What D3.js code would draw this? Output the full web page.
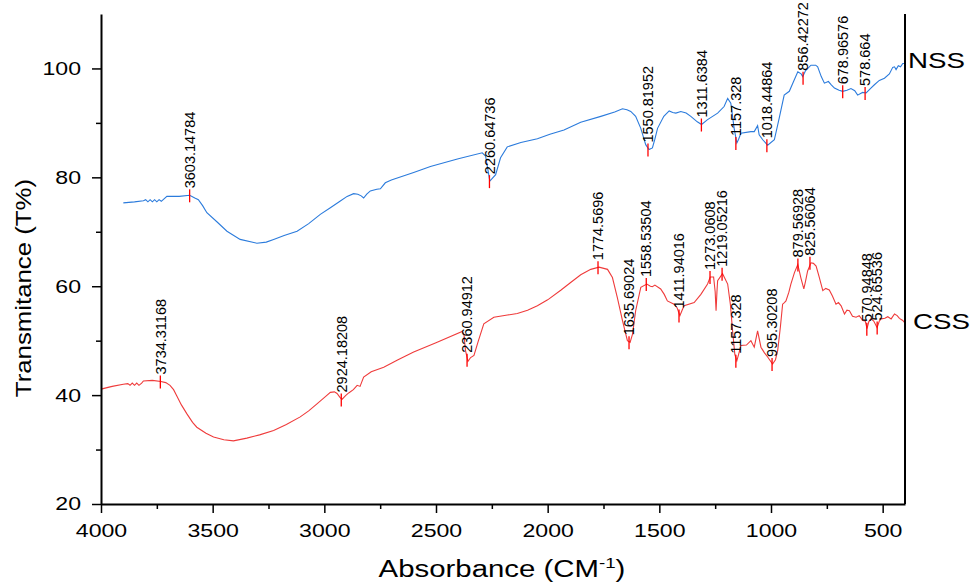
<!DOCTYPE html>
<html>
<head>
<meta charset="utf-8">
<script src="https://cdn.jsdelivr.net/npm/d3@7"></script>
<style>
body{margin:0;background:#fff;}
text{font-family:Arial,"Liberation Sans",sans-serif;}
</style>
</head>
<body>
<div id="chart-area"></div>
<script>
// NSS spectrum (wavenumber, transmittance)
var nssWave=[3900,3850,3810,3800,3790,3780,3770,3760,3750,3740,3730,3705,3650,3603,3580,3564,3545,3526,3480,3436,3377,3302,3260,3227,3180,3122,3070,3018,2973,2930,2898,2869,2850,2835,2824,2810,2794,2765,2749,2727,2700,2600,2525,2400,2293,2278,2268,2259,2248,2233,2211,2181,2120,2046,1990,1927,1852,1762,1700,1665,1645,1628,1606,1583,1561,1546,1531,1520,1508,1480,1456,1440,1426,1404,1380,1359,1330,1311,1284,1239,1210,1194,1180,1165,1153,1145,1135,1090,1075,1060,1053,1037,1015,985,963,941,918,900,880,865,858,845,821,800,791,775,761,743,730,716,695,679,660,642,625,612,590,574,555,537,515,492,470,455,447,440,430,420,410,402];
var nssT=[75.3,75.5,75.7,75.9,75.5,75.9,75.5,75.9,75.5,75.9,75.6,76.5,76.5,76.7,76.2,75.9,74.8,73.5,71.8,70.1,68.6,67.9,68.1,68.6,69.3,70.1,71.5,73.2,74.4,75.6,76.5,77.0,76.9,76.6,76.2,76.9,77.5,77.8,77.9,79.0,79.5,80.9,82.0,83.4,84.5,83.9,81.5,79.3,79.8,80.5,83.6,85.6,86.4,87.1,87.9,88.7,90.1,91.2,92.0,92.6,92.4,92.1,91.2,89.0,86.0,85.1,85.4,87.0,89.0,91.2,92.2,91.9,91.8,92.1,91.8,91.2,90.2,89.7,90.6,91.8,93.0,94.5,93.6,89.0,86.3,87.0,88.1,88.4,88.4,89.5,87.8,86.9,85.9,86.9,90.9,95.1,95.8,97.5,99.4,99.0,98.5,99.6,100.6,100.6,100.3,98.5,97.3,97.6,97.0,96.4,96.0,95.8,96.0,96.3,95.9,95.1,95.6,95.5,96.3,97.0,97.8,98.2,99.0,100.2,100.3,99.8,100.5,100.3,100.9,100.9];

// CSS spectrum
var cssWave=[4000,3950,3900,3880,3870,3860,3850,3840,3830,3818,3810,3770,3732,3710,3691,3675,3661,3640,3616,3590,3571,3530,3496,3450,3407,3347,3290,3227,3170,3108,3070,3033,2990,2973,2955,2943,2930,2921,2905,2891,2870,2853,2840,2824,2790,2734,2670,2600,2500,2383,2375,2368,2357,2345,2330,2310,2286,2241,2180,2136,2090,2046,2000,1940,1900,1852,1807,1770,1732,1710,1688,1665,1643,1631,1620,1606,1583,1556,1540,1531,1520,1494,1478,1464,1434,1420,1408,1398,1389,1344,1314,1284,1272,1262,1257,1250,1246,1242,1239,1217,1194,1182,1172,1162,1153,1145,1135,1110,1090,1075,1060,1045,1030,1015,993,980,970,958,948,940,933,920,911,895,880,866,853,845,836,821,810,798,785,768,755,739,725,709,698,686,671,660,649,635,619,605,589,578,570,562,552,540,525,515,507,490,477,462,447,435,425,410,400];
var cssT=[41.1,41.6,42.0,42.1,41.8,42.2,41.8,42.2,41.8,42.2,42.6,42.7,42.5,42.3,41.8,41.0,39.9,38.2,36.6,35.0,34.1,33.0,32.3,31.8,31.6,32.1,32.7,33.5,34.6,36.0,37.1,38.4,39.9,40.5,40.6,40.3,39.6,39.2,39.9,40.4,41.0,41.8,41.6,43.3,44.3,45.1,46.5,47.9,49.6,51.7,51.2,48.2,46.2,46.9,47.3,50.0,53.1,54.3,54.7,55.0,55.6,56.4,57.5,59.3,60.6,62.1,63.1,63.5,63.1,61.6,57.9,53.7,50.0,49.7,51.2,55.5,59.8,60.4,60.0,59.9,60.2,59.5,58.5,57.3,56.7,56.0,54.6,55.6,56.4,57.0,58.5,60.4,61.7,61.7,61.7,59.0,55.5,59.0,61.0,62.3,60.4,56.7,51.8,47.5,46.3,47.5,49.1,49.2,50.0,48.8,51.8,48.8,47.8,47.0,45.7,46.5,48.2,52.5,56.7,57.0,57.3,58.9,60.4,62.5,64.0,61.5,59.5,61.0,62.8,64.3,64.2,63.7,61.8,59.2,59.6,59.3,58.2,56.7,57.0,56.4,54.9,55.6,55.5,54.5,54.3,54.6,53.7,53.6,52.2,53.5,54.0,53.6,52.4,53.6,54.0,54.1,54.4,54.0,54.9,54.6,54.1,53.7,53.2];

// peak labels and the transmittance at each marker
var nssPeaks=["3603.14784","2260.64736","1550.81952","1311.6384","1157.328","1018.44864","856.42272","678.96576","578.664"];
var nssPeakT=[76.7,79.3,85.1,89.7,86.3,85.9,98.3,95.8,95.5];
var cssPeaks=["3734.31168","2924.18208","2360.94912","1774.5696","1635.69024","1558.53504","1411.94016","1273.0608","1219.05216","1157.328","995.30208","879.56928","825.56064","570.94848","524.65536"];
var cssPeakT=[42.5,39.2,46.5,63.5,49.7,60.4,54.6,61.7,62.3,46.3,45.7,64.0,64.3,52.2,52.4];

var xTicks=[4000,3500,3000,2500,2000,1500,1000,500];
var xMinor=[3750,3250,2750,2250,1750,1250,750];
var yTicks=[20,40,60,80,100];
var yMinor=[30,50,70,90];

var width=804;
var height=490;
var svg=d3.select("#chart-area").append("svg")
    .attr("width",973)
    .attr("height",582);
var g=svg.append("g")
    .attr("transform","translate(101,14)");

var x=d3.scaleLinear().domain([4000,400]).range([0,width]);
var y=d3.scaleLinear().domain([20,110]).range([height,0]);

var line=d3.line()
    .x((d)=>{return x(d[0]);})
    .y((d)=>{return y(d[1]);});

function drawSeries(wave,vals,color,peaks,peakT){
    var pts=wave.map((w,i)=>{return [w,vals[i]];});
    g.append("path")
        .datum(pts)
        .attr("fill","none")
        .attr("stroke",color)
        .attr("stroke-width",1.1)
        .attr("d",line);

    var pk=peaks.map((p,i)=>{return {label:p,w:+p,t:peakT[i]};});
    g.selectAll(null).data(pk).enter()
        .append("line")
        .attr("x1",(d)=>{return x(d.w);})
        .attr("x2",(d)=>{return x(d.w);})
        .attr("y1",(d)=>{return y(d.t)-6;})
        .attr("y2",(d)=>{return y(d.t)+7;})
        .attr("stroke","#ff0000")
        .attr("stroke-width",1.3);

    g.selectAll(null).data(pk).enter()
        .append("text")
        .attr("transform",(d)=>{return "translate("+x(d.w)+","+(y(d.t)-7)+") rotate(-90)";})
        .attr("dy","0.36em")
        .attr("font-size","14.5px")
        .style("fill","black")
        .text((d)=>{return d.label;});
}

drawSeries(nssWave,nssT,"#2b7bdc",nssPeaks,nssPeakT);
drawSeries(cssWave,cssT,"#ef3b3b",cssPeaks,cssPeakT);

// series names at the right end
g.append("text")
    .attr("transform","translate("+(x(400)+3)+","+(y(nssT[nssT.length-1])+4)+") scale(1.26,1)")
    .attr("font-size","22px")
    .style("fill","black")
    .text("NSS");
g.append("text")
    .attr("transform","translate("+(x(400)+8)+","+(y(cssT[cssT.length-1])+6)+") scale(1.26,1)")
    .attr("font-size","22px")
    .style("fill","black")
    .text("CSS");

// axes
var bottomAxis=d3.axisBottom(x)
    .tickValues(xTicks)
    .tickSize(9)
    .tickSizeOuter(0)
    .tickPadding(11)
    .tickFormat(d3.format("d"));
var bx=g.append("g")
    .attr("class","bottom axis")
    .attr("transform","translate(0,"+height+")")
    .call(bottomAxis);
bx.select(".domain").attr("stroke-width",2);
bx.selectAll(".tick line").attr("stroke-width",1.5);
bx.selectAll("text")
    .attr("font-size","18.5px")
    .attr("font-family","Arial, 'Liberation Sans', sans-serif")
    .attr("fill","black")
    .attr("transform","scale(1.25,1)");

var bxMinor=g.append("g")
    .attr("transform","translate(0,"+height+")")
    .call(d3.axisBottom(x).tickValues(xMinor).tickSize(5).tickFormat(""));
bxMinor.select(".domain").remove();
bxMinor.selectAll(".tick line").attr("stroke-width",1.5);

var leftAxis=d3.axisLeft(y)
    .tickValues(yTicks)
    .tickSize(9)
    .tickSizeOuter(0)
    .tickPadding(11);
var ly=g.append("g")
    .attr("class","left axis")
    .call(leftAxis);
ly.select(".domain").attr("stroke-width",2);
ly.selectAll(".tick line").attr("stroke-width",1.5);
ly.selectAll("text")
    .attr("font-size","18.5px")
    .attr("font-family","Arial, 'Liberation Sans', sans-serif")
    .attr("fill","black")
    .attr("x",-20/1.25)
    .attr("transform","scale(1.25,1)");

var lyMinor=g.append("g")
    .call(d3.axisLeft(y).tickValues(yMinor).tickSize(5).tickFormat(""));
lyMinor.select(".domain").remove();
lyMinor.selectAll(".tick line").attr("stroke-width",1.5);

g.append("line")
    .attr("x1",width).attr("x2",width)
    .attr("y1",0).attr("y2",height)
    .attr("stroke","black")
    .attr("stroke-width",2);

// axis titles
var xt=svg.append("text")
    .attr("transform","translate(502,577) scale(1.25,1)")
    .attr("text-anchor","middle")
    .attr("font-size","23.5px")
    .style("fill","black");
xt.append("tspan").text("Absorbance (CM");
xt.append("tspan").attr("dy",-9).attr("font-size","15px").text("-1");
xt.append("tspan").attr("dy",9).text(")");

svg.append("text")
    .attr("transform","translate(31,288) rotate(-90) scale(1.2,1)")
    .attr("text-anchor","middle")
    .attr("font-size","21.5px")
    .style("fill","black")
    .text("Transmitance (T%)");
</script>
</body>
</html>
